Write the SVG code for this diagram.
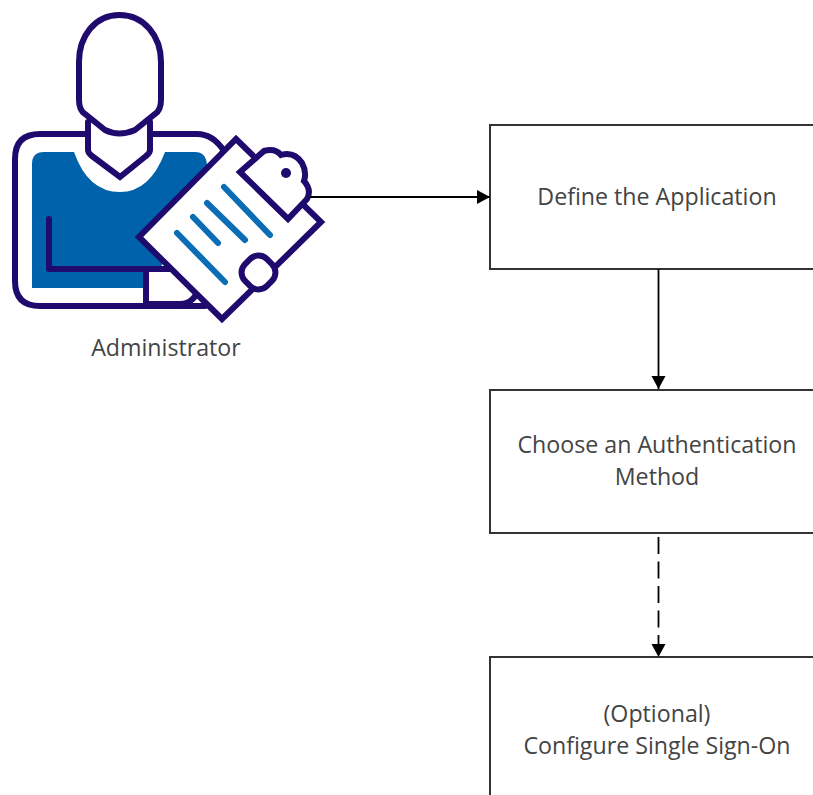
<svg xmlns="http://www.w3.org/2000/svg" width="813" height="795" viewBox="0 0 813 795">
<defs>
<style>
.box{fill:#fff;stroke:#333;stroke-width:2}
.lbl{font-family:"Open Sans","Noto Sans",sans-serif;font-size:23.200px;fill:#444;text-anchor:middle}
.ink{fill:none;stroke:#1f0a6e;stroke-width:6;stroke-linejoin:round;stroke-linecap:round}
.inkw{fill:#fff;stroke:#1f0a6e;stroke-width:6;stroke-linejoin:miter;stroke-linecap:round}
.stripe{fill:none;stroke:#0a6db5;stroke-width:6;stroke-linecap:round}
.conn{fill:none;stroke:#000;stroke-width:1.800}
</style>
<marker id="ah" markerUnits="userSpaceOnUse" markerWidth="15" markerHeight="15" refX="13" refY="7.500" orient="auto"><path d="M0,0.500 L13,7.500 L0,14.500 Z" fill="#000"/></marker>
</defs>
<rect width="813" height="795" fill="#fff"/>
<g id="administrator">
<path d="M90,134 H40 Q15,134 15,159 V281 Q15,306 40,306 H205 M150,134 H197 Q213,134 224,151" class="ink"/>
<path d="M44,152 H74 Q88,192 120,192 Q150,192 165,152 H195 Q206,152 207,165 L160,269 H146 V288 H32 V164 Q32,152 44,152 Z" fill="#0062ab"/>
<path d="M88,122 V150 Q88,153 92,156 L120,177 L146,156 Q150,153 150,150 V122" class="inkw"/>
<path d="M119.500,15 C95,15 79,36 79,62 V100 Q79,110 85,114 L105,130 Q119,137 135,130 L155,114 Q161,110 161,100 V62 C161,36 144,15 119.500,15 Z" fill="#fff" stroke="#1f0a6e" stroke-width="6"/>
<path d="M146,269 H49 V219" class="ink"/>
<path d="M146,269 V304 H180 Q196,303 198,287 Q197,271 185,269 Z" class="ink" style="fill:#fff"/>
<polygon points="236,139 321,222 222,319 139,237" class="inkw"/>
<path d="M240,172 L264,151 Q275,148 281,155 Q294,151 302,163 Q307,172 304,181 Q312,190 307,199 L288,219 Z" class="inkw"/>
<circle cx="286" cy="173" r="5" fill="#1f0a6e"/>
<rect x="243" y="257" width="31" height="31" rx="12" transform="rotate(45 258.500 272.500)" class="inkw"/>
<path d="M224,187 L270,235 M207,203 L245,240 M193,217 L218,243 M177,233 L225,282" class="stripe"/>
<text x="166" y="356" class="lbl">Administrator</text>
</g>
<g id="define">
<rect x="490" y="125" width="340" height="144" class="box"/>
<text x="657" y="205" class="lbl">Define the Application</text>
</g>
<g id="choose">
<rect x="490" y="390" width="340" height="143" class="box"/>
<text x="657" y="453" class="lbl">Choose an Authentication</text>
<text x="657" y="485" class="lbl">Method</text>
</g>
<g id="sso">
<rect x="490" y="657" width="340" height="160" class="box"/>
<text x="657" y="722" class="lbl">(Optional)</text>
<text x="657" y="754" class="lbl">Configure Single Sign-On</text>
</g>
<g id="connectors">
<path d="M310,197 H490" class="conn" marker-end="url(#ah)"/>
<path d="M658.500,269 V389" class="conn" marker-end="url(#ah)"/>
<path d="M658.500,537 V657" class="conn" stroke-dasharray="17,7.500" marker-end="url(#ah)"/>
</g>
</svg>
